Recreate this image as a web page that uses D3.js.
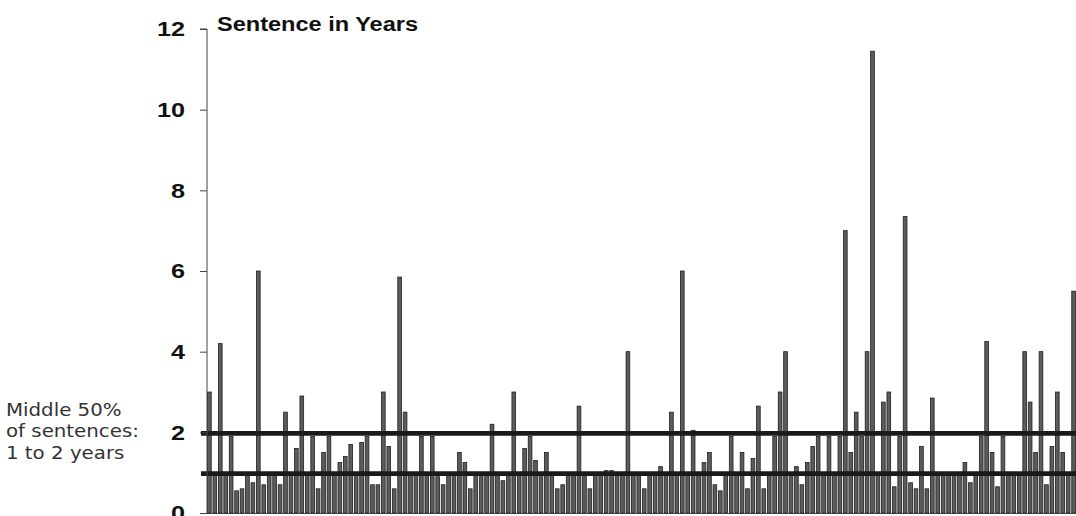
<!DOCTYPE html>
<html>
<head>
<meta charset="utf-8">
<script src="https://cdn.jsdelivr.net/npm/d3@7"></script>
<style>
  html, body { margin: 0; padding: 0; background: #fff; }
  svg { display: block; }
</style>
</head>
<body>
<svg id="chart" width="1076" height="516"></svg>
<script>
// ---- data ----
const sentences = [
  3.0, 1.0, 4.2, 1.0, 1.9, 0.55, 0.6, 1.0, 0.75, 6.0,
  0.7, 1.0, 1.0, 0.7, 2.5, 1.0, 1.6, 2.9, 1.0, 1.9,
  0.6, 1.5, 1.9, 1.0, 1.25, 1.4, 1.7, 1.0, 1.75, 1.9,
  0.7, 0.7, 3.0, 1.65, 0.6, 5.85, 2.5, 1.0, 1.0, 1.9,
  1.0, 1.9, 0.9, 0.7, 1.0, 1.0, 1.5, 1.25, 0.6, 1.0,
  0.9, 1.0, 2.2, 1.0, 0.8, 1.0, 3.0, 1.0, 1.6, 1.9,
  1.3, 1.0, 1.5, 1.0, 0.6, 0.7, 1.0, 1.0, 2.65, 1.0,
  0.6, 1.0, 1.0, 1.05, 1.05, 1.0, 1.0, 4.0, 1.0, 1.0,
  0.6, 1.0, 1.0, 1.15, 1.0, 2.5, 1.0, 6.0, 1.0, 2.05,
  1.0, 1.25, 1.5, 0.7, 0.55, 1.0, 1.9, 1.0, 1.5, 0.6,
  1.35, 2.65, 0.6, 1.0, 1.9, 3.0, 4.0, 0.9, 1.15, 0.7,
  1.25, 1.65, 1.9, 1.0, 1.9, 1.0, 1.9, 7.0, 1.5, 2.5,
  1.9, 4.0, 11.45, 1.0, 2.75, 3.0, 0.65, 1.9, 7.35, 0.75,
  0.6, 1.65, 0.6, 2.85, 1.0, 1.0, 1.0, 1.0, 1.0, 1.25,
  0.75, 1.0, 1.9, 4.25, 1.5, 0.65, 1.9, 1.0, 1.0, 1.0,
  4.0, 2.75, 1.5, 4.0, 0.7, 1.65, 3.0, 1.5, 1.0, 5.5
];
const cases = sentences.map((_, i) => i);
const yTicks = [0, 2, 4, 6, 8, 10, 12];
const quartiles = [1, 2];
const title = "Sentence in Years";
const noteLines = ["Middle 50%", "of sentences:", "1 to 2 years"];

// ---- layout ----
const svg = d3.select("#chart");
const plotLeft = 207, plotRight = 1076, plotTop = 29, plotBottom = 513;

const x = d3.scaleBand().domain(cases).range([plotLeft, plotRight]).paddingInner(0.32).paddingOuter(0.1);
const y = d3.scaleLinear().domain([0, 12]).range([plotBottom, plotTop]);

// bars
svg.append("g")
  .selectAll("rect")
  .data(sentences)
  .join("rect")
  .attr("x", (d, i) => x(i))
  .attr("y", d => y(d))
  .attr("width", x.bandwidth())
  .attr("height", d => y(0) - y(d))
  .attr("fill", "#5c5c5c")
  .attr("stroke", "#1e1e1e")
  .attr("stroke-width", 0.8);

// quartile lines
svg.append("g")
  .selectAll("line")
  .data(quartiles)
  .join("line")
  .attr("x1", 201)
  .attr("x2", plotRight)
  .attr("y1", d => y(d) + 1)
  .attr("y2", d => y(d) + 1)
  .attr("stroke", "#1a1a1a")
  .attr("stroke-width", 4.8);

// y axis
const sx = 1.2;
const yAxis = d3.axisLeft(y).tickValues(yTicks).tickSize(7).tickPadding(15).tickFormat(d3.format("d"));
const gy = svg.append("g").attr("transform", `translate(${plotLeft},0)`).call(yAxis);
gy.select(".domain").attr("stroke", "#444").attr("stroke-width", 1).attr("d", `M-7,${y(12)}H0V${y(0)}`);
gy.selectAll(".tick line").attr("stroke", "#444");
gy.selectAll(".tick text")
  .attr("font-family", "'Liberation Sans', Arial, sans-serif")
  .attr("font-weight", "bold")
  .attr("font-size", 21)
  .attr("fill", "#111")
  .attr("x", -22 / sx)
  .attr("transform", `scale(${sx},1)`);

// x baseline
svg.append("line")
  .attr("x1", plotLeft - 7).attr("x2", plotRight)
  .attr("y1", y(0) + 0.5).attr("y2", y(0) + 0.5)
  .attr("stroke", "#444").attr("stroke-width", 1);

// title
svg.append("text")
  .attr("x", 217).attr("y", 31)
  .attr("font-family", "'Liberation Sans', Arial, sans-serif")
  .attr("font-weight", "bold")
  .attr("font-size", 20)
  .attr("fill", "#111")
  .attr("textLength", 201)
  .attr("lengthAdjust", "spacingAndGlyphs")
  .text(title);

// note
const nsx = 1.1;
svg.append("g")
  .selectAll("text")
  .data(noteLines)
  .join("text")
  .attr("x", 6 / nsx)
  .attr("y", (d, i) => 416 + i * 21.5)
  .attr("transform", `scale(${nsx},1)`)
  .attr("font-family", "'DejaVu Sans', sans-serif")
  .attr("font-size", 18)
  .attr("fill", "#333")
  .text(d => d);
</script>
</body>
</html>
